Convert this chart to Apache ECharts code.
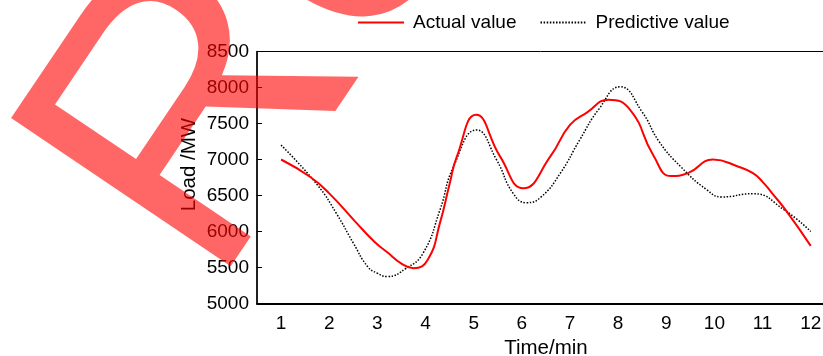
<!DOCTYPE html>
<html>
<head>
<meta charset="utf-8">
<script src="https://cdn.jsdelivr.net/npm/echarts@6/dist/echarts.min.js"></script>
<style>
  html, body { margin: 0; padding: 0; background: #fff; }
  #chart { width: 823px; height: 356px; }
</style>
</head>
<body>
<div id="chart"></div>
<script>
// x-axis categories (Time/min)
const timeLabels = ['1', '2', '3', '4', '5', '6', '7', '8', '9', '10', '11', '12']

// actual load (x in minutes, y in MW)
const actualX = [1, 1.6, 2, 2.55, 2.95, 3.2, 3.5, 3.75, 4.05, 4.3, 4.5, 4.65, 5.05, 5.55, 6.03, 6.6, 7.0, 7.35, 7.8, 8.25, 8.73, 9.1, 9.45, 9.97, 10.5, 10.8, 11.0, 11.2, 11.5, 12]
const actualY = [7000, 6760, 6530, 6130, 5850, 5715, 5555, 5490, 5610, 6120, 6660, 7040, 7620, 7040, 6600, 7050, 7480, 7650, 7830, 7690, 7060, 6770, 6810, 7000, 6900, 6810, 6690, 6530, 6280, 5800]

// predictive load
const predictX = [1, 1.75, 2.15, 2.5, 2.8, 3.0, 3.2, 3.6, 3.95, 4.3, 4.58, 5.06, 5.48, 5.82, 6.1, 6.4, 6.8, 7.2, 7.6, 8.04, 8.5, 8.85, 9.3, 9.84, 10.15, 10.8, 11.45, 12]
const predictY = [7200, 6650, 6250, 5840, 5510, 5420, 5375, 5490, 5700, 6300, 6900, 7410, 6990, 6530, 6400, 6480, 6810, 7270, 7700, 8010, 7660, 7250, 6900, 6580, 6480, 6525, 6300, 6000]

const yMin = 5000
const yMax = 8500
const yStep = 500

const zip = (xs, ys) => xs.map((x, i) => [x, ys[i]])

const FONT = '"Liberation Sans", Arial, Helvetica, sans-serif'

const chart = echarts.init(document.getElementById('chart'))

const option = {
  animation: false,
  backgroundColor: '#fff',
  grid: {
    left: 257,
    width: 577.8,
    top: 51.5,
    bottom: 52.5,
    outerBoundsMode: 'none',
    containLabel: false,
    show: true,
    borderColor: '#000',
    borderWidth: 1
  },
  legend: {
    left: 357,
    top: 13,
    padding: 0,
    itemWidth: 46,
    itemHeight: 14,
    itemGap: 23,
    itemStyle: { opacity: 0 },
    textStyle: {
      fontFamily: FONT,
      fontSize: 19,
      color: '#000',
      padding: [0, 0, 0, 4]
    },
    data: ['Actual value', 'Predictive value']
  },
  xAxis: [
    {
      type: 'category',
      data: timeLabels,
      boundaryGap: true,
      name: 'Time/min',
      nameLocation: 'middle',
      nameGap: 34,
      nameMoveOverlap: false,
      nameTextStyle: { fontFamily: FONT, fontSize: 20.5, color: '#000' },
      axisLine: { lineStyle: { color: '#000', width: 2 } },
      axisTick: { inside: true, length: 5, lineStyle: { color: '#000', width: 1 } },
      axisLabel: { fontFamily: FONT, fontSize: 19, color: '#000', margin: 11 },
      splitLine: { show: false }
    },
    {
      type: 'value',
      min: 0.5,
      max: 12.5,
      show: false
    }
  ],
  yAxis: {
    type: 'value',
    min: yMin,
    max: yMax,
    interval: yStep,
    name: 'Load /MW',
    nameLocation: 'middle',
    nameGap: 57,
    nameMoveOverlap: false,
    nameTextStyle: { fontFamily: FONT, fontSize: 20.5, color: '#000', padding: [0, 0, 0, 26] },
    axisLine: { show: true, lineStyle: { color: '#000', width: 1.5 } },
    axisTick: { show: true, inside: true, length: 5, lineStyle: { color: '#000', width: 1 } },
    axisLabel: {
      fontFamily: FONT,
      fontSize: 19,
      color: '#000',
      margin: 8,
      formatter: v => String(v)
    },
    splitLine: { show: false }
  },
  series: [
    {
      name: 'Actual value',
      type: 'line',
      xAxisIndex: 1,
      data: zip(actualX, actualY),
      smooth: true,
      symbol: 'none',
      lineStyle: { color: '#ff0000', width: 2 },
      itemStyle: { color: '#ff0000' },
      z: 3
    },
    {
      name: 'Predictive value',
      type: 'line',
      xAxisIndex: 1,
      data: zip(predictX, predictY),
      smooth: true,
      symbol: 'none',
      lineStyle: { color: '#000', width: 1.5, type: [1.5, 1.6] },
      itemStyle: { color: '#000' },
      z: 2
    }
  ],
  // red stamp laid over the figure
  graphic: [
    {
      type: 'text',
      x: 125,
      y: 233,
      rotation: 56 * Math.PI / 180,
      z: 100,
      silent: true,
      style: {
        text: 'Re',
        fill: 'rgba(255,0,0,0.6)',
        fontSize: 385,
        fontFamily: FONT,
        textAlign: 'left',
        verticalAlign: 'middle'
      }
    }
  ]
}

chart.setOption(option)
window.addEventListener('resize', () => chart.resize())
</script>
</body>
</html>
